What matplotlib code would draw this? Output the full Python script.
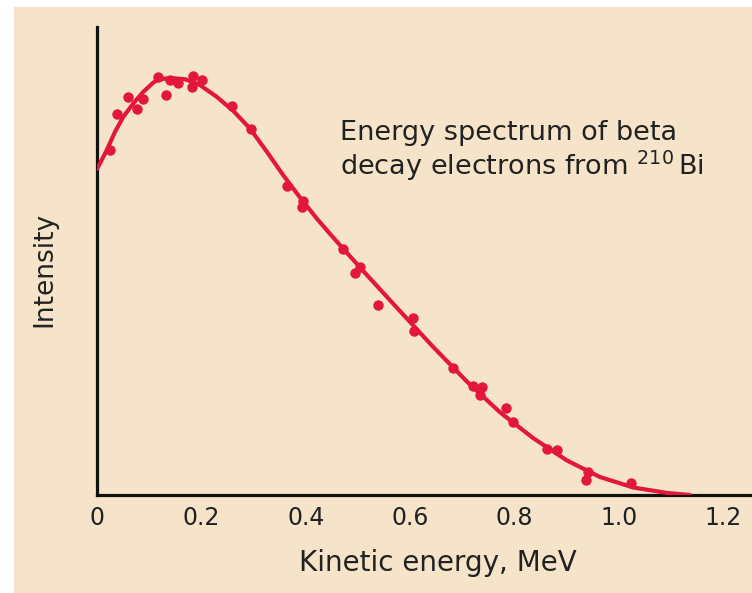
import matplotlib
matplotlib.use("Agg")
import matplotlib.pyplot as plt
from matplotlib.patches import Rectangle

BG = "#f5e4c9"
RED = "#e2173a"

# fitted curve (MeV, relative intensity)
curve_e = [0.0, 0.0186, 0.0345, 0.0504, 0.0695, 0.0887, 0.1079, 0.1174, 0.140,
           0.169, 0.1973, 0.2293, 0.2613, 0.2931, 0.3251, 0.3569, 0.3889, 0.4208,
           0.4464, 0.4655, 0.5167, 0.5805, 0.6443, 0.7082, 0.7720, 0.8358, 0.8998,
           0.9636, 1.0274, 1.0914, 1.136]
curve_i = [0.780, 0.825, 0.869, 0.905, 0.937, 0.965, 0.987, 0.994, 0.998,
           0.995, 0.981, 0.953, 0.919, 0.877, 0.822, 0.765, 0.712, 0.662,
           0.625, 0.598, 0.527, 0.440, 0.354, 0.272, 0.198, 0.136, 0.083,
           0.043, 0.018, 0.005, 0.0]

# measured points
pts_e = [0.025, 0.038, 0.059, 0.077, 0.088, 0.117, 0.132, 0.140, 0.155, 0.182,
         0.184, 0.201, 0.259, 0.295, 0.364, 0.395, 0.393, 0.471, 0.504, 0.494,
         0.538, 0.605, 0.607, 0.682, 0.720, 0.738, 0.734, 0.784, 0.797, 0.862,
         0.881, 0.941, 0.937, 1.023]
pts_i = [0.825, 0.911, 0.952, 0.923, 0.947, 1.000, 0.957, 0.993, 0.986, 0.976,
         1.002, 0.993, 0.931, 0.876, 0.739, 0.703, 0.689, 0.589, 0.545, 0.531,
         0.455, 0.423, 0.392, 0.304, 0.261, 0.258, 0.239, 0.208, 0.175, 0.110,
         0.108, 0.055, 0.036, 0.029]

x_ticks = [0.0, 0.2, 0.4, 0.6, 0.8, 1.0, 1.2]
x_tick_labels = ["0", "0.2", "0.4", "0.6", "0.8", "1.0", "1.2"]

plt.rcParams["mathtext.default"] = "regular"

fig = plt.figure(figsize=(7.52, 5.93), dpi=100, facecolor="white")
fig.add_artist(Rectangle((14 / 752, 0), 1 - 14 / 752, 586 / 593,
                         transform=fig.transFigure, facecolor=BG,
                         edgecolor="none", zorder=-10))

ax = fig.add_axes([97 / 752, 98 / 593, 653 / 752, 468 / 593])
ax.set_facecolor("none")

ax.plot(curve_e, curve_i, color=RED, lw=3, solid_capstyle="round",
        solid_joinstyle="round", zorder=3)
ax.plot(pts_e, pts_i, "o", color=RED, ms=7.5, mec="none", zorder=4)

ax.set_xlim(0, 1.251)
ax.set_ylim(0, 1.12)

for side in ("top", "right"):
    ax.spines[side].set_visible(False)
for side in ("left", "bottom"):
    ax.spines[side].set_linewidth(2.3)
    ax.spines[side].set_color("#111111")

ax.set_xticks(x_ticks)
ax.set_xticklabels(x_tick_labels)
ax.set_yticks([])
ax.tick_params(axis="x", length=0, pad=8, labelsize=17, labelcolor="#222222")

ax.set_xlabel("Kinetic energy, MeV", fontsize=20, color="#222222", va="center")
ax.xaxis.set_label_coords(0.522, -0.145)
ax.set_ylabel("Intensity", fontsize=19, color="#222222", va="center")
ax.yaxis.set_label_coords(-0.081, 0.481)

ax.text(0.4655, 0.849, "Energy spectrum of beta", fontsize=19.5,
        color="#222222", va="baseline", ha="left")
ax.text(0.4655, 0.766, r"decay electrons from $^{210}\,$Bi", fontsize=19.5,
        color="#222222", va="baseline", ha="left")

fig.savefig("out.png", dpi=100, facecolor="white")
